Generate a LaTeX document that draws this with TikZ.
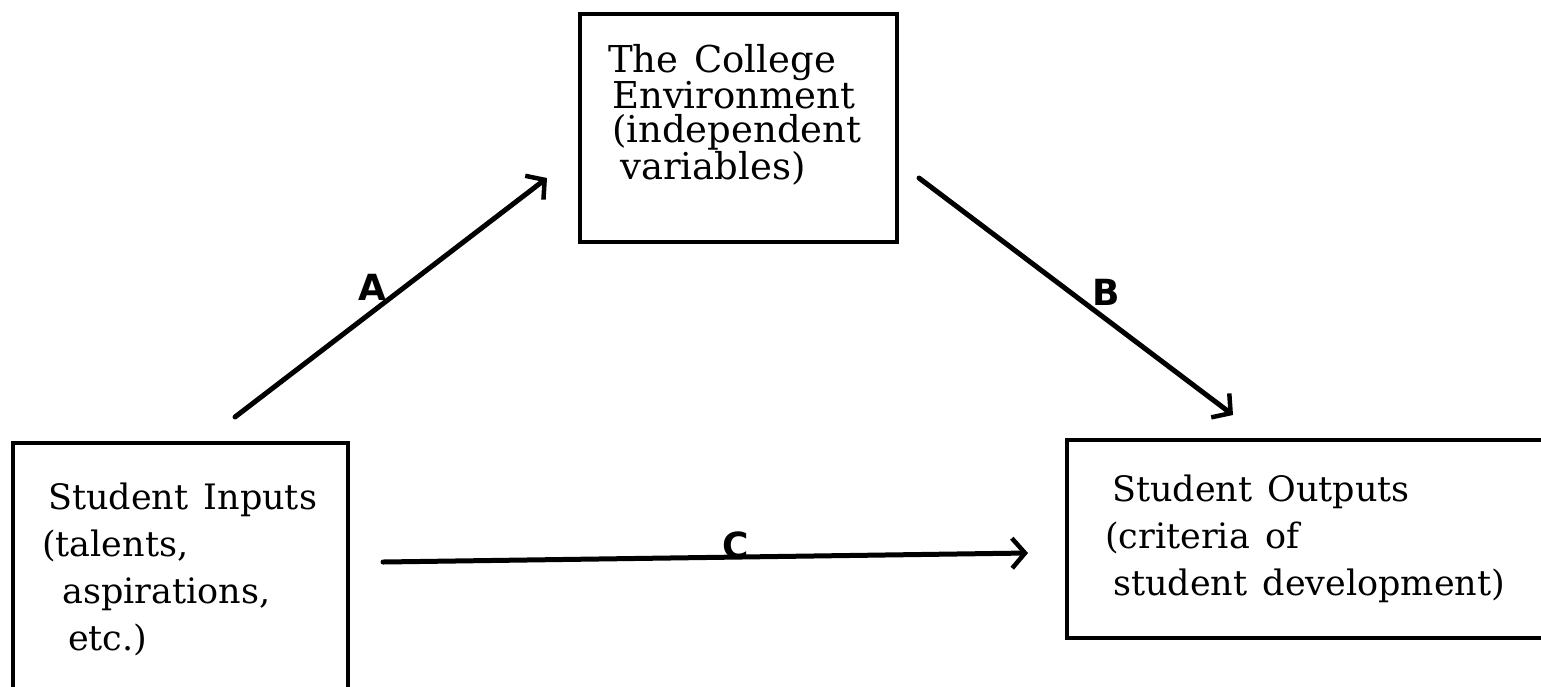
\documentclass[tikz,border=0pt]{standalone}
\usepackage{fontspec}
\setmainfont{DejaVu Serif}
\newfontfamily\handfont{DejaVu Sans}
\usetikzlibrary{arrows.meta}
\begin{document}
\begin{tikzpicture}[x=1pt,y=-1pt,
  boxline/.style={draw=black, line width=3.5pt, inner sep=0pt, outer sep=0pt},
  boxtext/.style={anchor=north west, inner sep=0pt, align=left},
  flow/.style={line width=5pt, line cap=round, -{Straight Barb[length=13pt,width=30pt,line width=4.5pt]}},
  letter/.style={font=\handfont\bfseries\fontsize{36}{36}\selectfont, inner sep=0pt}]
\useasboundingbox (0,0) rectangle (1541,686);
\clip (0,0) rectangle (1541,686);
\fill[white] (0,0) rectangle (1541,686);
% boxes
\node[boxline, minimum width=317pt, minimum height=228pt] (env) at (738.5,128) {};
\node[boxline, minimum width=335pt, minimum height=297pt] (inp) at (180.5,591.5) {};
\node[boxline, minimum width=503pt, minimum height=198pt] (out) at (1318.5,539) {};
% texts
\node[boxtext, font=\fontsize{37}{34}\selectfont] (envtext) at (608,44)
  {The\hspace{4pt} College\\\hspace*{4pt}Environment\\\hspace*{4pt}(independent\\\hspace*{12pt}variables)};
\node[boxtext, font=\fontsize{35}{47}\selectfont] (inptext) at (42,483)
  {\hspace*{6pt}Student\hspace{4pt} Inputs\\(talents,\\\hspace*{20pt}aspirations,\\\hspace*{26pt}etc.)};
\node[boxtext, font=\fontsize{35}{47}\selectfont] (outtext) at (1105,475)
  {\hspace*{7pt}Student\hspace{4pt} Outputs\\(criteria\hspace{4pt} of\\\hspace*{8pt}student\hspace{4pt} development)};
% connectors
\coordinate (aS) at (235,417);
\coordinate (aE) at (547,178);
\coordinate (bS) at (919,178);
\coordinate (bE) at (1233,415);
\coordinate (cS) at (383,562);
\coordinate (cE) at (1028,553);
\draw[flow] (aS) -- (aE);
\draw[flow] (bS) -- (bE);
\draw[flow] (cS) -- (cE);
% labels
\node[letter] (la) at (372,287) {A};
\node[letter] (lb) at (1106,292) {B};
\node[letter] (lc) at (736,545) {C};
\end{tikzpicture}
\end{document}
